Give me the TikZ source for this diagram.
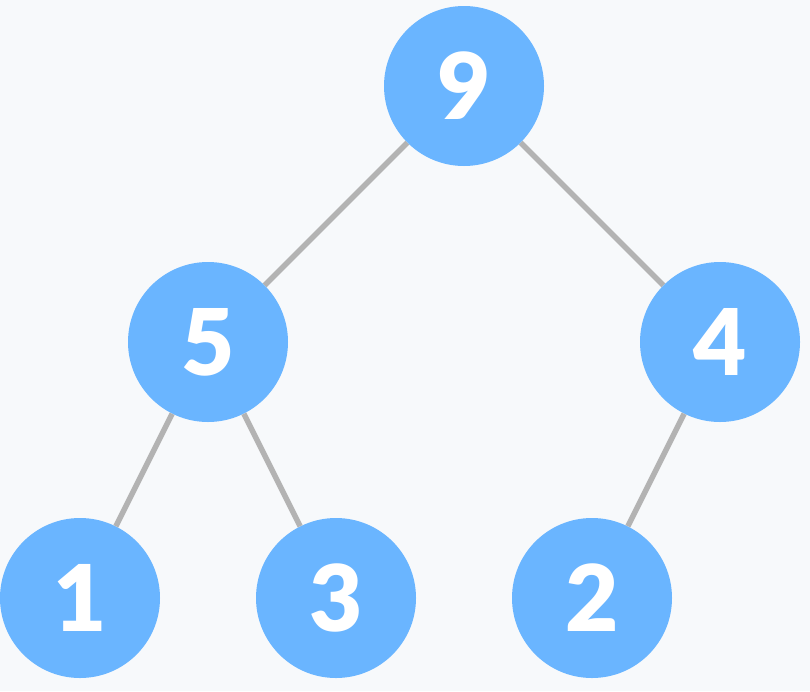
\documentclass[tikz,border=0pt]{standalone}
\usepackage{fontspec}
\setmainfont{Lato}
\newfontfamily\heavyfont{Lato Black}
\definecolor{bgc}{HTML}{F7F9FB}
\definecolor{nodec}{HTML}{6AB5FF}
\definecolor{edgec}{HTML}{B3B3B3}
\begin{document}
\begin{tikzpicture}[x=1pt,y=-1pt,
  hnode/.style={circle,fill=nodec,minimum size=160pt,inner sep=0pt,text=white,font=\heavyfont\fontsize{92}{92}\selectfont},
  hedge/.style={draw=edgec,line width=5.5pt}]
\fill[bgc] (0,0) rectangle (810,691);
\useasboundingbox (0,0) rectangle (810,691);
\node[hnode] (n9) at (464,86) {\raisebox{-2pt}{9}};
\node[hnode] (n5) at (208,342) {\raisebox{-2pt}{5}};
\node[hnode] (n4) at (720,342) {\raisebox{-2pt}{4}};
\node[hnode] (n1) at (80,598) {\raisebox{-2pt}{1}};
\node[hnode] (n3) at (336,598) {\raisebox{-2pt}{3}};
\node[hnode] (n2) at (592,598) {\raisebox{-2pt}{2}};
\draw[hedge] (n9) -- (n5);
\draw[hedge] (n9) -- (n4);
\draw[hedge] (n5) -- (n1);
\draw[hedge] (n5) -- (n3);
\draw[hedge] (n4) -- (n2);
\end{tikzpicture}
\end{document}
